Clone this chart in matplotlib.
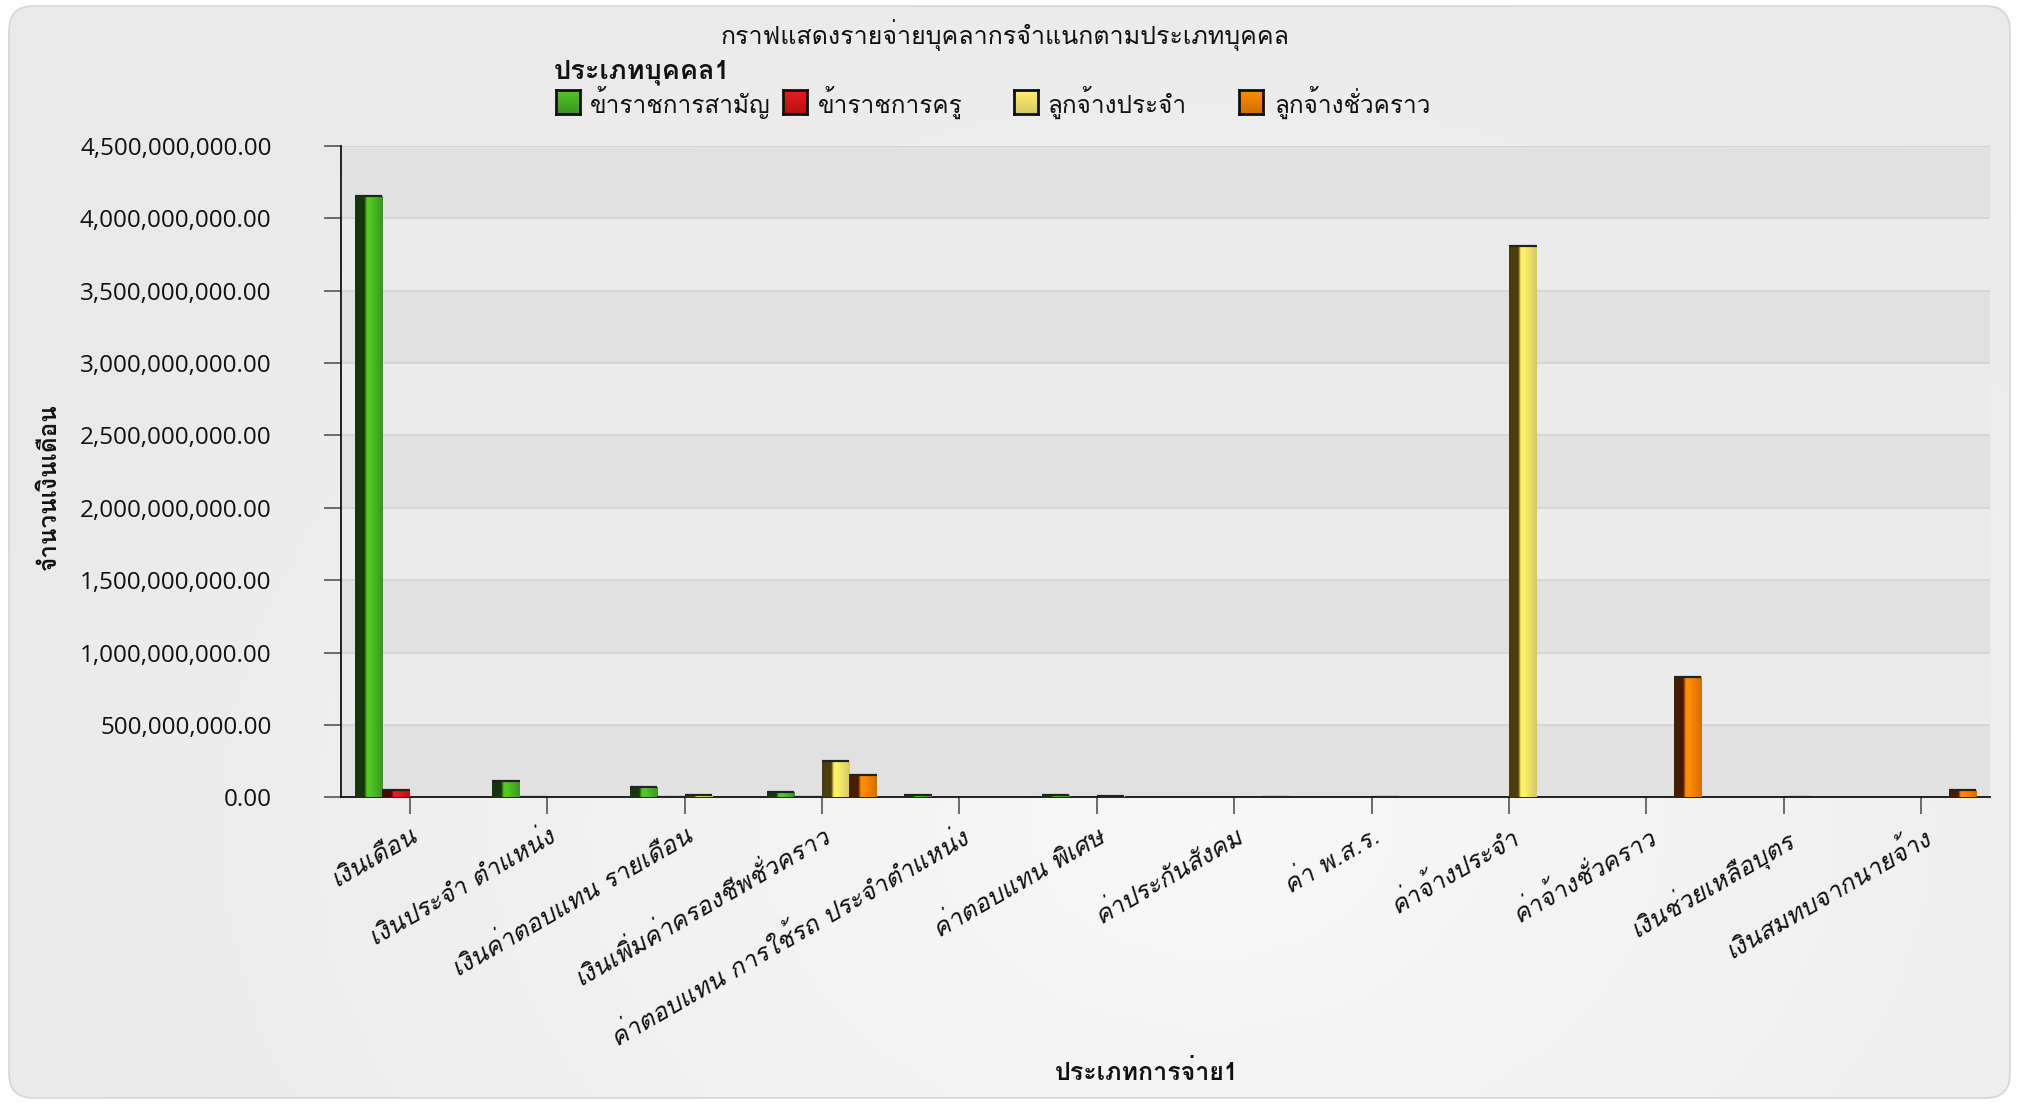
import numpy as np
import matplotlib
matplotlib.use("Agg")
import matplotlib.pyplot as plt
from matplotlib.colors import LinearSegmentedColormap
from matplotlib.patches import FancyBboxPatch, Rectangle

# data (baht)
categories = [
    "เงินเดือน",
    "เงินประจำ ตำแหน่ง",
    "เงินค่าตอบแทน รายเดือน",
    "เงินเพิ่มค่าครองชีพชั่วคราว",
    "ค่าตอบแทน การใช้รถ ประจำตำแหน่ง",
    "ค่าตอบแทน พิเศษ",
    "ค่าประกันสังคม",
    "ค่า พ.ส.ร.",
    "ค่าจ้างประจำ",
    "ค่าจ้างชั่วคราว",
    "เงินช่วยเหลือบุตร",
    "เงินสมทบจากนายจ้าง",
]
series_names = ["ข้าราชการสามัญ", "ข้าราชการครู", "ลูกจ้างประจำ", "ลูกจ้างชั่วคราว"]
civil = [4.15e9, 110e6, 75e6, 35e6, 20e6, 15e6, 0, 0, 0, 0, 0, 0]
teacher = [50e6, 5e6, 3e6, 2e6, 0, 0, 0, 0, 0, 0, 0, 0]
permanent = [0, 0, 20e6, 250e6, 0, 12e6, 0, 2e6, 3.81e9, 0, 2e6, 0]
temporary = [0, 0, 0, 155e6, 0, 0, 3e6, 0, 0, 830e6, 0, 50e6]
y_ticks = np.arange(0, 4.5e9 + 1, 5e8)

series = [civil, teacher, permanent, temporary]
# dark side, highlight, right side
shades = [
    ("#16360d", "#52c922", "#3c9424"),
    ("#4a0404", "#e51e1e", "#b51212"),
    ("#4c3e0c", "#fff06a", "#d4c866"),
    ("#471c00", "#ff8c05", "#cf7000"),
]

THAI = ["Loma", "Noto Sans Thai Looped", "DejaVu Sans"]
NUM = ["Open Sans", "DejaVu Sans"]

W, H = 2020, 1104
fig = plt.figure(figsize=(W / 100, H / 100), dpi=100)
fig.patch.set_facecolor("white")

# rounded background panel with a soft gradient
bg = fig.add_axes([0, 0, 1, 1], zorder=-10)
bg.set_xlim(0, 1)
bg.set_ylim(0, 1)
bg.axis("off")
yy, xx = np.mgrid[0:1:200j, 0:1:300j]
r = np.sqrt(((xx - 0.6) * 1.2) ** 2 + ((yy - 0.25) * 0.9) ** 2)
bgcmap = LinearSegmentedColormap.from_list("bg", ["#f8f8f8", "#e9e9e9"])
panel = FancyBboxPatch((9 / W, 6 / H), 2001 / W, 1092 / H,
                       boxstyle="round,pad=0,rounding_size=0.012",
                       transform=bg.transAxes, facecolor="none",
                       edgecolor="#d6d6d6", lw=1.2, mutation_aspect=W / H)
bg.add_patch(panel)
img = bg.imshow(r, cmap=bgcmap, extent=[0, 1, 0, 1], origin="lower",
                aspect="auto", vmin=0, vmax=0.8)
img.set_clip_path(panel)

ax = fig.add_axes([341 / W, 1 - 797.4 / H, (1990 - 341) / W, (797.4 - 145.7) / H])
ax.set_facecolor("none")

x = np.arange(len(categories))
bw = 0.2
grad = np.linspace(0, 1, 64).reshape(1, -1)
for i, (vals, (dk, hi, md)) in enumerate(zip(series, shades)):
    cmap = LinearSegmentedColormap.from_list(
        f"s{i}", [(0, dk), (0.33, dk), (0.42, hi), (0.55, hi), (1, md)])
    bars = ax.bar(x + (i - 1.5) * bw, vals, width=bw, color=md, zorder=3, lw=0)
    for rect in bars:
        h = rect.get_height()
        if h <= 0:
            continue
        x0, w = rect.get_x(), rect.get_width()
        im = ax.imshow(grad, cmap=cmap, extent=[x0, x0 + w, 0, h],
                       aspect="auto", zorder=3.5, interpolation="bilinear")
        im.set_clip_path(rect)
        ax.hlines(h, x0, x0 + w, colors="#222222", lw=1.6, zorder=4)

# alternating bands and grid lines
for k in range(len(y_ticks) - 1):
    ax.axhspan(y_ticks[k], y_ticks[k + 1],
               color="#e1e1e1" if k % 2 == 0 else "#ebebeb", zorder=0, lw=0)
for t in y_ticks[1:]:
    ax.axhline(t, color="#d2d2d2", lw=1.2, zorder=1)

ax.set_xlim(-0.5, len(categories) - 0.5)
ax.set_ylim(0, y_ticks[-1])
ax.set_yticks(y_ticks)
ax.set_yticklabels([f"{v:,.2f}" for v in y_ticks], family=NUM, fontsize=17.5, color="#111111")
ax.set_xticks(x)
ax.set_xticklabels(categories, rotation=30, ha="right", va="top",
                   rotation_mode="anchor", family=THAI, style="oblique",
                   fontsize=18, color="#111111")
ax.tick_params(axis="y", length=12, width=1.2, color="#555555", pad=38)
ax.tick_params(axis="x", length=12, width=1.2, color="#555555", pad=7)
for s in ["top", "right"]:
    ax.spines[s].set_visible(False)
for s in ["left", "bottom"]:
    ax.spines[s].set_color("#111111")
    ax.spines[s].set_linewidth(1.3)

# texts
fig.text(0.4975, 1 - 34.6 / H, "กราฟแสดงรายจ่ายบุคลากรจำแนกตามประเภทบุคคล",
         ha="center", va="center", family=THAI, fontsize=18, color="#111111")
fig.text(49 / W, 1 - 487 / H, "จำนวนเงินเดือน", rotation=90, ha="center", va="center",
         family=THAI, fontsize=17.5, fontweight="bold", color="#111111")
fig.text(1147 / W, 1 - 1072 / H, "ประเภทการจ่าย1", ha="center", va="center",
         family=THAI, fontsize=18, fontweight="bold", color="#111111")

# legend
fig.text(554 / W, 1 - 72 / H, "ประเภทบุคคล1", ha="left", va="center",
         family=THAI, fontsize=19.5, fontweight="bold", color="#111111")
sq_x = [556, 783, 1014, 1239]
txt_x = [590, 818, 1047, 1274]
vgrad = np.linspace(1, 0, 32).reshape(-1, 1)
for name, (dk, hi, md), sx, tx in zip(series_names, shades, sq_x, txt_x):
    lax = fig.add_axes([sx / W, 1 - 114 / H, 24 / W, 24 / H])
    lcm = LinearSegmentedColormap.from_list("l" + name, [md, hi])
    lax.imshow(vgrad, cmap=lcm, aspect="auto", extent=[0, 1, 0, 1])
    lax.set_xticks([])
    lax.set_yticks([])
    for sp in lax.spines.values():
        sp.set_linewidth(2)
        sp.set_color("#111111")
    fig.text(tx / W, 1 - 102.5 / H, name, ha="left", va="center",
             family=THAI, fontsize=17.5, color="#111111")

fig.savefig("out.png", dpi=100)
